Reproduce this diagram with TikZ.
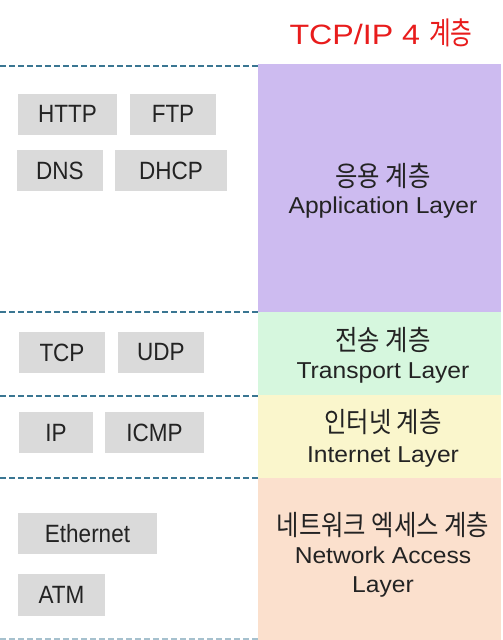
\documentclass[tikz,border=0pt]{standalone}
\usepackage{fontspec}
\setmainfont{Liberation Sans}
\newfontfamily\kr[FakeStretch=0.87]{Noto Sans CJK KR}
\newfontfamily\krt[FakeStretch=0.76]{Noto Sans CJK KR}
\newfontfamily\boxfont[FakeStretch=0.9]{Liberation Sans}
\newfontfamily\layfont[FakeStretch=1.07]{Liberation Sans}
\newfontfamily\titfont[FakeStretch=1.15]{Liberation Sans}
\definecolor{appc}{RGB}{205,187,240}
\definecolor{trac}{RGB}{214,247,222}
\definecolor{intc}{RGB}{250,246,204}
\definecolor{netc}{RGB}{251,224,205}
\definecolor{boxc}{RGB}{218,218,218}
\definecolor{dashc}{RGB}{58,118,146}
\definecolor{titc}{RGB}{232,28,28}
\definecolor{txtc}{RGB}{35,35,35}
\tikzset{
  proto/.style={fill=boxc, text=txtc, inner sep=0pt, minimum height=41pt,
    font=\boxfont\fontsize{25}{28}\selectfont},
  panel/.style={inner sep=0pt, draw=none, anchor=north west},
  sepline/.style={draw=dashc, line width=2pt, dash pattern=on 6pt off 3pt},
  krtext/.style={anchor=base, text=txtc, inner sep=0pt, font=\kr\fontsize{28}{32}\selectfont},
  entext/.style={anchor=base, text=txtc, inner sep=0pt, font=\layfont\fontsize{23}{27}\selectfont},
}
\begin{document}
\begin{tikzpicture}[x=1pt,y=-1pt]
\useasboundingbox (0,0) rectangle (503,640);
% panels
\node[panel, fill=appc, minimum width=243pt, minimum height=248pt] (app) at (258,64) {};
\node[panel, fill=trac, minimum width=243pt, minimum height=83pt] (tra) at (258,312) {};
\node[panel, fill=intc, minimum width=243pt, minimum height=83pt] (int) at (258,395) {};
\node[panel, fill=netc, minimum width=243pt, minimum height=162pt] (net) at (258,478) {};
% separators
\draw[sepline] (0,66) -- (258,66);
\draw[sepline] (0,312) -- (258,312);
\draw[sepline] (0,396) -- (258,396);
\draw[sepline] (0,478) -- (258,478);
\draw[sepline, draw=dashc!45] (0,638.5) -- (258,638.5);
% title
\node[anchor=base, text=titc, inner sep=0pt, font=\titfont\fontsize{28}{32}\selectfont] (title) at (381,44) {TCP/IP 4 {\krt\fontsize{31}{34}\selectfont 계층}};
% protocol boxes
\node[proto, minimum width=99pt] (http) at (67.5,114) {HTTP};
\node[proto, minimum width=86pt] (ftp) at (173,114) {FTP};
\node[proto, minimum width=86pt] (dns) at (60,170.5) {DNS};
\node[proto, minimum width=112pt] (dhcp) at (171,170.5) {DHCP};
\node[proto, minimum width=86pt] (tcp) at (62,352.5) {TCP};
\node[proto, minimum width=86pt] (udp) at (161,352.5) {UDP};
\node[proto, minimum width=74pt] (ip) at (56,432.5) {IP};
\node[proto, minimum width=99pt] (icmp) at (154.5,432.5) {ICMP};
\node[proto, minimum width=139pt] (eth) at (87.5,533.5) {Ethernet};
\node[proto, minimum width=87pt, minimum height=42pt] (atm) at (61.5,595) {ATM};
% layer labels
\node[krtext] (appk) at (383,186) {응용 계층};
\node[entext] (appe) at (383,213) {Application Layer};
\node[krtext] (trak) at (383,350) {전송 계층};
\node[entext] (trae) at (383,378) {Transport Layer};
\node[krtext] (intk) at (383,432) {인터넷 계층};
\node[entext] (inte) at (383,462) {Internet Layer};
\node[krtext] (netk) at (383,535) {네트워크 엑세스 계층};
\node[entext] (nete) at (383,563) {Network Access};
\node[entext] (netl) at (383,592) {Layer};
\end{tikzpicture}
\end{document}
